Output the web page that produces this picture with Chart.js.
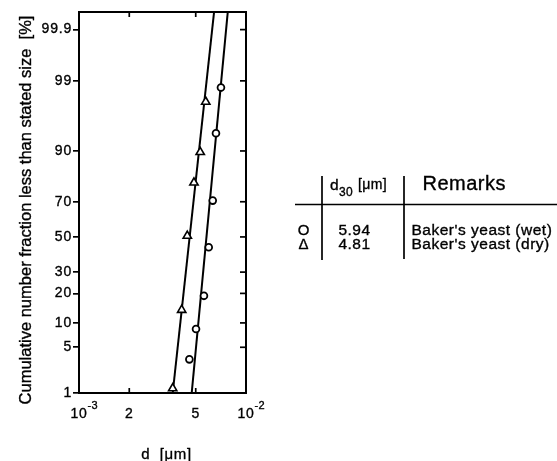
<!DOCTYPE html>
<html>
<head>
<meta charset="utf-8">
<script src="https://cdn.jsdelivr.net/npm/chart.js@4.4.1/dist/chart.umd.min.js"></script>
<style>
  html, body { margin: 0; padding: 0; background: #fff; }
  #c { display: block; }
</style>
</head>
<body>
<canvas id="c" width="557" height="461"></canvas>
<script>
// ---- data ----------------------------------------------------------------
// particle size d (axis unit) and cumulative number fraction [%]
const wetD       = [4.58e-3, 5.02e-3, 5.60e-3, 5.98e-3, 6.32e-3, 6.61e-3, 7.08e-3];
const wetPercent = [3.4, 8.5, 19.0, 43.9, 70.6, 93.9, 98.7];
const dryD       = [3.64e-3, 4.12e-3, 4.45e-3, 4.88e-3, 5.32e-3, 5.74e-3];
const dryPercent = [1.2, 13.8, 50.6, 79.1, 89.7, 97.8];

// straight log-normal fit lines (end points)
const fitPercent = [1, 99.99];
const wetFitD    = [4.73e-3, 8.03e-3];
const dryFitD    = [3.64e-3, 6.68e-3];

// axis ticks: x labels are mantissa + optional power-of-ten exponent
const xTickValues   = [1e-3, 2e-3, 5e-3, 1e-2];
const xTickBase     = ['10', '2', '5', '10'];
const xTickExp      = ['-3', '', '', '-2'];
const yTickPercents = [1, 5, 10, 20, 30, 50, 70, 90, 99, 99.9];
const yTopPercent   = 99.96;

// summary table
const tableSymbols = ['O', '\u0394'];
const tableD30     = ['5.94', '4.81'];
const tableRemarks = ["Baker's yeast (wet)", "Baker's yeast (dry)"];

// ---- probability (normal) scale helper ------------------------------------
function probit(p) {
  const a = [-3.969683028665376e+01, 2.209460984245205e+02, -2.759285104469687e+02,
             1.383577518672690e+02, -3.066479806614716e+01, 2.506628277459239e+00];
  const b = [-5.447609879822406e+01, 1.615858368580409e+02, -1.556989798598866e+02,
             6.680131188771972e+01, -1.328068155288572e+01];
  const c = [-7.784894002430293e-03, -3.223964580411365e-01, -2.400758277161838e+00,
             -2.549732539343734e+00, 4.374664141464968e+00, 2.938163982698783e+00];
  const d = [7.784695709041462e-03, 3.224671290700398e-01, 2.445134137142996e+00,
             3.754408661907416e+00];
  const pl = 0.02425, ph = 1 - pl;
  let q, r;
  if (p < pl) {
    q = Math.sqrt(-2 * Math.log(p));
    return (((((c[0]*q+c[1])*q+c[2])*q+c[3])*q+c[4])*q+c[5]) / ((((d[0]*q+d[1])*q+d[2])*q+d[3])*q+1);
  }
  if (p <= ph) {
    q = p - 0.5; r = q * q;
    return (((((a[0]*r+a[1])*r+a[2])*r+a[3])*r+a[4])*r+a[5])*q / (((((b[0]*r+b[1])*r+b[2])*r+b[3])*r+b[4])*r+1);
  }
  q = Math.sqrt(-2 * Math.log(1 - p));
  return -(((((c[0]*q+c[1])*q+c[2])*q+c[3])*q+c[4])*q+c[5]) / ((((d[0]*q+d[1])*q+d[2])*q+d[3])*q+1);
}
const z = pct => probit(pct / 100);
const toPoints = (ds, ps) => ds.map((d, i) => ({ x: d, y: z(ps[i]) }));

const FONT = "'Liberation Sans', Arial, Helvetica, sans-serif";
const STROKE = 0.35;   // slight text thickening

// filled + lightly stroked text
function ink(ctx, text, x, y) {
  ctx.lineWidth = STROKE;
  ctx.strokeText(text, x, y);
  ctx.fillText(text, x, y);
}

// ---- frame, inward ticks, exponents, titles and table ---------------------
const decorPlugin = {
  id: 'decor',
  beforeDraw(chart) {
    chart.ctx.letterSpacing = '0.8px';
  },
  afterDraw(chart) {
    const { ctx, chartArea: a, scales: { x, y } } = chart;
    const seg = (x1, y1, x2, y2) => { ctx.beginPath(); ctx.moveTo(x1, y1); ctx.lineTo(x2, y2); ctx.stroke(); };
    ctx.save();
    ctx.strokeStyle = '#000';
    ctx.fillStyle = '#000';
    ctx.lineCap = 'square';

    // top and right edges of the frame
    ctx.lineWidth = 2;
    ctx.beginPath();
    ctx.moveTo(a.left, a.top);
    ctx.lineTo(a.right, a.top);
    ctx.lineTo(a.right, a.bottom);
    ctx.stroke();

    // inward tick marks on the right and on top/bottom
    ctx.lineCap = 'butt';
    ctx.lineWidth = 1.7;
    y.ticks.forEach(t => {
      if (t.value <= y.min + 1e-9) return;
      const py = y.getPixelForValue(t.value);
      seg(a.right - 6, py, a.right, py);
    });
    x.ticks.forEach(t => {
      if (t.value <= x.min || t.value >= x.max) return;
      const px = x.getPixelForValue(t.value);
      seg(px, a.bottom, px, a.bottom - 5);
      seg(px, a.top, px, a.top + 5);
    });

    // exponents of the power-of-ten x labels
    ctx.textAlign = 'left';
    ctx.textBaseline = 'alphabetic';
    x.ticks.forEach((t, i) => {
      if (!xTickExp[i]) return;
      ctx.letterSpacing = '0.8px';
      ctx.font = `14px ${FONT}`;
      const half = ctx.measureText(xTickBase[i]).width / 2;
      ctx.letterSpacing = '0.3px';
      ctx.font = `11px ${FONT}`;
      ink(ctx, xTickExp[i], x.getPixelForValue(t.value) + half, 409);
    });

    // axis titles
    ctx.letterSpacing = '0px';
    ctx.font = `16.5px ${FONT}`;
    ctx.textAlign = 'center';
    ctx.save();
    ctx.translate(30.5, 210);
    ctx.rotate(-Math.PI / 2);
    ink(ctx, 'Cumulative number fraction less than stated size  [%]', 0, 0);
    ctx.restore();

    ctx.letterSpacing = '0.6px';
    ctx.font = `15px ${FONT}`;
    ink(ctx, 'd  [\u03BCm]', (a.left + a.right) / 2 + 4, 459);

    // summary table
    ctx.lineWidth = 1.7;
    seg(295, 204.5, 557, 204.5);
    seg(322, 176, 322, 260);
    seg(404, 176, 404, 259);

    ctx.textAlign = 'left';
    ctx.letterSpacing = '0.4px';
    ctx.font = `15.5px ${FONT}`;
    ink(ctx, 'd', 330, 190);
    ctx.font = `12px ${FONT}`;
    ink(ctx, '30', 339, 196);
    ctx.font = `14px ${FONT}`;
    ink(ctx, '[\u03BCm]', 358, 189);

    ctx.letterSpacing = '0.5px';
    ctx.font = `20px ${FONT}`;
    ink(ctx, 'Remarks', 422.5, 190);

    const rowBase = [234.5, 248.5];
    tableSymbols.forEach((s, i) => {
      ctx.letterSpacing = '0px';
      ctx.textAlign = 'center';
      ctx.font = `15px ${FONT}`;
      ink(ctx, s, 303.5, rowBase[i]);
      ctx.letterSpacing = '0.5px';
      ctx.font = `15.5px ${FONT}`;
      ink(ctx, tableD30[i], 354.5, rowBase[i]);
      ctx.textAlign = 'left';
      ink(ctx, tableRemarks[i], 411.5, rowBase[i]);
    });
    ctx.restore();
  }
};

const tickFont = { family: FONT, size: 14 };

// ---- chart -----------------------------------------------------------------
new Chart(document.getElementById('c'), {
  type: 'scatter',
  data: {
    datasets: [
      {
        label: 'wet fit', type: 'line', data: toPoints(wetFitD, fitPercent),
        borderColor: '#000', borderWidth: 2, pointRadius: 0, fill: false, order: 2
      },
      {
        label: 'dry fit', type: 'line', data: toPoints(dryFitD, fitPercent),
        borderColor: '#000', borderWidth: 2, pointRadius: 0, fill: false, order: 2
      },
      {
        label: "Baker's yeast (wet)", data: toPoints(wetD, wetPercent),
        pointStyle: 'circle', pointRadius: 3.4, pointBorderWidth: 1.8,
        pointBackgroundColor: '#fff', pointBorderColor: '#000', showLine: false, order: 1
      },
      {
        label: "Baker's yeast (dry)", data: toPoints(dryD, dryPercent),
        pointStyle: 'triangle', pointRadius: 4.8, pointBorderWidth: 1.6,
        pointBackgroundColor: '#fff', pointBorderColor: '#000', showLine: false, order: 1
      }
    ]
  },
  options: {
    responsive: false,
    animation: false,
    devicePixelRatio: 1,
    layout: { padding: { left: 0, top: 12, right: 557 - 246, bottom: 0 } },
    plugins: { legend: { display: false }, tooltip: { enabled: false } },
    scales: {
      x: {
        type: 'logarithmic',
        min: 1e-3, max: 1e-2,
        afterBuildTicks: s => { s.ticks = xTickValues.map(v => ({ value: v })); },
        afterFit: s => { s.height = 68; },
        grid: { display: false },
        border: { display: true, color: '#000', width: 2 },
        ticks: {
          autoSkip: false, maxRotation: 0, padding: 5, color: '#000',
          font: tickFont, textStrokeColor: '#000', textStrokeWidth: STROKE,
          callback: (v, i) => xTickBase[i]
        }
      },
      y: {
        type: 'linear',
        min: z(yTickPercents[0]), max: z(yTopPercent),
        afterBuildTicks: s => { s.ticks = yTickPercents.map(p => ({ value: z(p) })); },
        afterFit: s => { s.width = 79; },
        grid: { display: true, drawOnChartArea: false, drawTicks: true, tickLength: 6, color: '#000', lineWidth: 1.7 },
        border: { display: true, color: '#000', width: 2 },
        ticks: {
          autoSkip: false, padding: 1, color: '#000',
          font: tickFont, textStrokeColor: '#000', textStrokeWidth: STROKE,
          callback: (v, i) => String(yTickPercents[i])
        }
      }
    }
  },
  plugins: [decorPlugin]
});
</script>
</body>
</html>
